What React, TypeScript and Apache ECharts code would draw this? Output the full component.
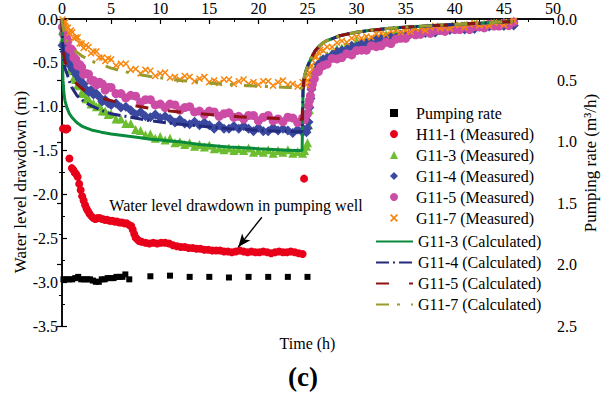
import React, { useEffect, useRef } from 'react';
import * as echarts from 'echarts';

const FONT = 'Liberation Serif, serif';

// ---------- Pumping rate (m3/h, right axis) ----------
const tQ = [0.15, 0.45, 0.75, 1.05, 1.35, 1.65, 1.95, 2.25, 2.55, 2.85, 3.15, 3.45, 3.75, 4.05, 4.35, 4.65, 4.95, 5.25, 5.55, 5.85, 6.15, 6.45, 6.85, 9, 11, 13, 15, 17, 19, 21, 23, 25];
const vQ = [2.12, 2.12, 2.12, 2.12, 2.11, 2.10, 2.12, 2.12, 2.12, 2.12, 2.13, 2.14, 2.14, 2.12, 2.12, 2.11, 2.11, 2.11, 2.10, 2.10, 2.10, 2.08, 2.12, 2.095, 2.09, 2.10, 2.10, 2.105, 2.10, 2.10, 2.10, 2.10];

// ---------- H11-1 (Measured) ----------
const tH = [0.1, 0.25, 0.4, 0.55, 0.75, 1.0, 1.15, 1.3, 1.45, 1.6, 1.75, 1.9, 2.05, 2.2, 2.35, 2.5, 2.65, 2.8, 3.0, 3.2, 3.4, 3.6, 3.85, 4.1, 4.35, 4.6, 4.85, 5.1, 5.35, 5.6, 5.85, 6.1, 6.35, 6.6, 6.85, 7.05, 7.2, 7.35, 7.5, 7.65, 7.85, 8.1,
  8.5, 8.9, 9.3, 9.7, 10.1, 10.5, 10.9, 11.3, 11.7, 12.1, 12.5, 12.9, 13.3, 13.7, 14.1, 14.5, 14.9, 15.3, 15.7, 16.1, 16.5, 16.9, 17.3, 17.7, 18.1, 18.5, 18.9, 19.3, 19.7, 20.1, 20.5, 20.9, 21.3, 21.7, 22.1, 22.5, 22.9, 23.3, 23.7, 24.1, 24.5, 24.65];
const vH = [-1.25, -1.25, -1.26, -1.25, -1.59, -1.70, -1.72, -1.75, -1.77, -1.80, -1.88, -1.95, -2.02, -2.07, -2.12, -2.16, -2.19, -2.22, -2.25, -2.27, -2.28, -2.27, -2.27, -2.28, -2.29, -2.29, -2.30, -2.30, -2.31, -2.31, -2.32, -2.32, -2.33, -2.33, -2.35, -2.36, -2.40, -2.45, -2.49, -2.51, -2.53, -2.54,
  -2.55, -2.56, -2.55, -2.56, -2.55, -2.55, -2.56, -2.58, -2.59, -2.60, -2.60, -2.61, -2.61, -2.62, -2.62, -2.63, -2.63, -2.64, -2.64, -2.64, -2.65, -2.65, -2.66, -2.65, -2.64, -2.65, -2.66, -2.65, -2.66, -2.66, -2.65, -2.66, -2.67, -2.66, -2.65, -2.66, -2.66, -2.65, -2.66, -2.67, -2.68, -1.82];

// ---------- G11 observation wells, measured (pumping phase) ----------
const tP = [0.05, 0.15, 0.25, 0.35, 0.45, 0.6, 0.75, 0.9,
  1.05, 1.2, 1.4, 1.6, 1.8, 2.0, 2.2, 2.45,
  2.7, 2.95, 3.2, 3.5, 3.8, 4.1, 4.4, 4.7,
  5, 5.5, 6, 6.5, 7, 7.5, 8, 8.5,
  9, 9.5, 10, 10.5, 11, 11.5, 12, 12.5,
  13, 13.5, 14, 14.5, 15, 15.5, 16, 16.5,
  17, 17.5, 18, 18.5, 19, 19.5, 20, 20.5,
  21, 21.5, 22, 22.5, 23, 23.5, 24, 24.5];
const g3P = [-0.13, -0.22, -0.24, -0.31, -0.33, -0.44, -0.49, -0.57,
  -0.59, -0.67, -0.69, -0.75, -0.76, -0.84, -0.85, -0.91,
  -0.91, -0.97, -0.96, -1.00, -0.99, -1.05, -1.05, -1.09,
  -1.08, -1.14, -1.14, -1.19, -1.19, -1.26, -1.27, -1.32,
  -1.31, -1.36, -1.34, -1.38, -1.36, -1.41, -1.40, -1.43,
  -1.41, -1.45, -1.43, -1.46, -1.44, -1.48, -1.47, -1.49,
  -1.47, -1.50, -1.48, -1.50, -1.47, -1.52, -1.50, -1.52,
  -1.49, -1.53, -1.50, -1.52, -1.49, -1.53, -1.51, -1.53];
const g4P = [-0.30, -0.31, -0.37, -0.37, -0.42, -0.49, -0.48, -0.54,
  -0.57, -0.56, -0.63, -0.63, -0.69, -0.75, -0.74, -0.80,
  -0.83, -0.81, -0.86, -0.85, -0.89, -0.94, -0.92, -0.96,
  -0.98, -0.96, -1.01, -1.00, -1.04, -1.09, -1.06, -1.11,
  -1.12, -1.09, -1.13, -1.11, -1.14, -1.18, -1.15, -1.19,
  -1.20, -1.17, -1.21, -1.18, -1.21, -1.25, -1.21, -1.25,
  -1.25, -1.22, -1.25, -1.22, -1.25, -1.28, -1.24, -1.28,
  -1.28, -1.24, -1.27, -1.25, -1.27, -1.30, -1.26, -1.29];
const g5P = [-0.09, -0.17, -0.17, -0.23, -0.21, -0.25, -0.34, -0.34,
  -0.36, -0.44, -0.46, -0.53, -0.52, -0.55, -0.63, -0.62,
  -0.63, -0.70, -0.70, -0.75, -0.72, -0.74, -0.81, -0.78,
  -0.78, -0.85, -0.85, -0.90, -0.87, -0.88, -0.95, -0.92,
  -0.92, -0.98, -0.97, -1.01, -0.97, -0.98, -1.04, -1.01,
  -1.00, -1.06, -1.05, -1.09, -1.05, -1.06, -1.11, -1.08,
  -1.07, -1.12, -1.11, -1.14, -1.10, -1.10, -1.16, -1.12,
  -1.10, -1.16, -1.14, -1.17, -1.12, -1.13, -1.18, -1.13];
const g7P = [-0.005, -0.06, -0.04, -0.03, -0.10, -0.10, -0.16, -0.13,
  -0.15, -0.22, -0.21, -0.21, -0.28, -0.28, -0.33, -0.30,
  -0.32, -0.39, -0.37, -0.37, -0.44, -0.44, -0.48, -0.45,
  -0.46, -0.53, -0.51, -0.51, -0.58, -0.57, -0.62, -0.58,
  -0.59, -0.65, -0.62, -0.61, -0.67, -0.66, -0.69, -0.65,
  -0.66, -0.71, -0.68, -0.66, -0.72, -0.70, -0.73, -0.69,
  -0.69, -0.74, -0.71, -0.69, -0.74, -0.72, -0.75, -0.71,
  -0.71, -0.76, -0.72, -0.70, -0.75, -0.74, -0.77, -0.72];

// ---------- G11 measured (recovery phase) ----------
const tR = [24.7, 24.9, 25.0, 25.1, 25.2, 25.3, 25.4, 25.5,
  25.7, 25.9, 26.1, 26.3, 26.6, 27.0, 27.5, 28.0,
  28.5, 29, 29.5, 30, 30.5, 31, 31.5, 32,
  32.5, 33, 33.5, 34, 34.5, 35, 35.5, 36,
  36.5, 37, 37.5, 38, 38.5, 39, 39.5, 40,
  40.5, 41, 41.5, 42, 42.5, 43, 43.5, 44,
  44.5, 45, 45.5, 46];
const g3R = [-1.50, -1.45, -1.41, -1.205, -1.035, -0.865, -0.765, -0.67,
  -0.60, -0.54, -0.52, -0.465, -0.465, -0.415, -0.385, -0.34,
  -0.33, -0.30, -0.30, -0.255, -0.27, -0.235, -0.23, -0.20,
  -0.20, -0.18, -0.19, -0.155, -0.175, -0.145, -0.15, -0.13,
  -0.13, -0.115, -0.13, -0.10, -0.125, -0.10, -0.105, -0.085,
  -0.09, -0.075, -0.09, -0.06, -0.085, -0.06, -0.065, -0.045,
  -0.05, -0.035, -0.05, -0.02];
const g4R = [-1.265, -1.29, -1.245, -1.175, -1.01, -0.905, -0.80, -0.71,
  -0.625, -0.58, -0.515, -0.515, -0.46, -0.445, -0.41, -0.37,
  -0.355, -0.35, -0.305, -0.315, -0.275, -0.275, -0.255, -0.23,
  -0.225, -0.23, -0.195, -0.215, -0.18, -0.185, -0.17, -0.15,
  -0.15, -0.16, -0.13, -0.155, -0.125, -0.135, -0.125, -0.11,
  -0.11, -0.12, -0.09, -0.115, -0.085, -0.095, -0.085, -0.07,
  -0.07, -0.08, -0.05, -0.075];
const g5R = [-1.15, -1.085, -1.08, -0.99, -0.93, -0.875, -0.78, -0.745,
  -0.68, -0.605, -0.60, -0.55, -0.53, -0.515, -0.45, -0.455,
  -0.44, -0.395, -0.41, -0.36, -0.355, -0.355, -0.305, -0.315,
  -0.305, -0.265, -0.28, -0.23, -0.22, -0.22, -0.17, -0.18,
  -0.175, -0.14, -0.165, -0.13, -0.13, -0.14, -0.10, -0.12,
  -0.12, -0.09, -0.12, -0.085, -0.09, -0.10, -0.06, -0.08,
  -0.08, -0.05, -0.075, -0.035];
const g7R = [-0.73, -0.75, -0.70, -0.64, -0.61, -0.55, -0.53, -0.47,
  -0.43, -0.43, -0.38, -0.35, -0.36, -0.32, -0.32, -0.27,
  -0.25, -0.265, -0.22, -0.20, -0.22, -0.20, -0.21, -0.17,
  -0.16, -0.18, -0.14, -0.125, -0.15, -0.13, -0.145, -0.11,
  -0.105, -0.13, -0.095, -0.08, -0.105, -0.09, -0.105, -0.07,
  -0.067, -0.093, -0.06, -0.047, -0.073, -0.06, -0.076, -0.043,
  -0.04, -0.066, -0.033, -0.02];

// ---------- Calculated curves ----------
const tC = [0, 0.05, 0.1, 0.2, 0.3, 0.5, 0.75, 1, 1.5, 2, 2.5, 3, 4, 5, 6, 7, 8, 9, 10, 11, 12, 13, 14, 15, 16, 17, 18, 19, 20, 21, 22, 23, 24, 24.45];
const c3 = [0, -0.45, -0.70, -0.85, -0.93, -1.01, -1.08, -1.12, -1.18, -1.22, -1.245, -1.265, -1.29, -1.31, -1.325, -1.34, -1.355, -1.37, -1.38, -1.39, -1.40, -1.415, -1.43, -1.44, -1.45, -1.46, -1.465, -1.47, -1.48, -1.485, -1.49, -1.495, -1.50, -1.50];
const c4 = [0, -0.25, -0.38, -0.50, -0.56, -0.62, -0.71, -0.78, -0.87, -0.92, -0.96, -0.99, -1.04, -1.08, -1.10, -1.12, -1.14, -1.16, -1.175, -1.19, -1.20, -1.21, -1.22, -1.23, -1.24, -1.25, -1.255, -1.26, -1.27, -1.275, -1.28, -1.28, -1.285, -1.285];
const c5 = [0, -0.20, -0.30, -0.42, -0.48, -0.56, -0.62, -0.67, -0.74, -0.79, -0.83, -0.86, -0.90, -0.93, -0.96, -0.98, -1.00, -1.02, -1.035, -1.05, -1.06, -1.07, -1.08, -1.09, -1.10, -1.105, -1.115, -1.12, -1.125, -1.13, -1.135, -1.14, -1.14, -1.145];
const c7 = [0, -0.05, -0.09, -0.15, -0.19, -0.25, -0.30, -0.33, -0.38, -0.42, -0.45, -0.48, -0.52, -0.56, -0.59, -0.615, -0.635, -0.655, -0.67, -0.685, -0.70, -0.71, -0.72, -0.73, -0.74, -0.745, -0.755, -0.76, -0.765, -0.77, -0.775, -0.78, -0.785, -0.79];
const tCR = [24.55, 24.6, 24.7, 24.85, 25.0, 25.2, 25.5, 25.8, 26.2, 26.6, 27, 27.6, 28.3, 29.3, 30, 31, 32, 33.4, 35.4, 37.8, 40.5, 43, 45.6, 46];
const cRec = [-0.80, -0.72, -0.65, -0.59, -0.54, -0.49, -0.42, -0.36, -0.31, -0.27, -0.245, -0.22, -0.19, -0.165, -0.15, -0.135, -0.122, -0.105, -0.09, -0.075, -0.06, -0.045, -0.03, -0.028];

// annotation arrow (data coords): tail -> head
const arrowTail = [20.35, -2.26];
const arrowHead = [17.95, -2.6];

const xTicks = { min: 0, max: 50, interval: 5 };
const leftTicks = { min: -3.5, max: 0, interval: 0.5 };
const rightTicks = { min: 0, max: 2.5, interval: 0.5 };

const XSYM = 'path://M0,1.5L1.5,0L5,3.5L8.5,0L10,1.5L6.5,5L10,8.5L8.5,10L5,6.5L1.5,10L0,8.5L3.5,5Z';

const zip = (ts: number[], vs: number[]) => ts.map((t, i) => [t, vs[i]]);

export default function App() {
  const ref = useRef<HTMLDivElement>(null);
  useEffect(() => {
    const chart = echarts.init(ref.current as HTMLDivElement, null, { renderer: 'svg' });
    const axisLine = { show: true, lineStyle: { color: '#000', width: 1.5 } };
    const lab = { color: '#000', fontSize: 16, fontFamily: FONT };
    const scatter = (name: string, data: number[][], symbol: string, size: number, color: string, extra: any = {}) => ({
      name, type: 'scatter', data, symbol, symbolSize: size, itemStyle: { color, opacity: 1 }, ...extra,
    });
    const line = (name: string, data: number[][], color: string, type: any) => ({
      name, type: 'line', data, symbol: 'none', smooth: false,
      lineStyle: { color, width: 3, type }, itemStyle: { color },
    });
    const option: any = {
      animation: false,
      backgroundColor: '#fff',
      textStyle: { fontFamily: FONT },
      grid: { left: 62, right: 52, top: 18, bottom: 76, containLabel: false },
      xAxis: [
        {
          type: 'value', position: 'bottom', ...xTicks,
          axisLine, axisTick: { show: false }, axisLabel: { show: false }, splitLine: { show: false },
          name: 'Time (h)', nameLocation: 'middle', nameGap: 9, nameTextStyle: lab,
        },
        {
          type: 'value', position: 'top', ...xTicks,
          axisLine, axisTick: { show: true, inside: true, length: 5, lineStyle: { color: '#000', width: 1.2 } },
          minorTick: { show: true, splitNumber: 2, length: 3, lineStyle: { color: '#000', width: 1 } },
          axisLabel: { ...lab, margin: 3 }, splitLine: { show: false },
        },
      ],
      yAxis: [
        {
          type: 'value', position: 'left', ...leftTicks,
          axisLine, axisTick: { show: true, inside: true, length: 5, lineStyle: { color: '#000', width: 1.2 } },
          minorTick: { show: true, splitNumber: 2, length: 3, lineStyle: { color: '#000', width: 1 } },
          axisLabel: { ...lab, margin: 4, formatter: (v: number) => v.toFixed(1) }, splitLine: { show: false },
        },
        {
          type: 'value', position: 'right', inverse: true, ...rightTicks,
          axisLine, axisTick: { show: true, inside: true, length: 5, lineStyle: { color: '#000', width: 1.2 } },
          minorTick: { show: true, splitNumber: 2, length: 3, lineStyle: { color: '#000', width: 1 } },
          axisLabel: { ...lab, margin: 4, formatter: (v: number) => v.toFixed(1) }, splitLine: { show: false },
        },
      ],
      legend: [
        {
          orient: 'vertical', left: 390, top: 104, padding: 0, itemWidth: 8, itemHeight: 8, itemGap: 3,
          selectedMode: false, textStyle: { ...lab, lineHeight: 18, padding: [0, 0, 0, 13] },
          data: ['Pumping rate', 'H11-1 (Measured)', 'G11-3 (Measured)', 'G11-4 (Measured)', 'G11-5 (Measured)', 'G11-7 (Measured)'],
        },
        {
          orient: 'vertical', left: 375, top: 232.5, padding: 0, itemWidth: 37, itemHeight: 8, itemGap: 3,
          selectedMode: false, textStyle: { ...lab, lineHeight: 18 },
          itemStyle: { opacity: 0 },
          data: ['G11-3 (Calculated)', 'G11-4 (Calculated)', 'G11-5 (Calculated)', 'G11-7 (Calculated)'],
        },
      ],
      series: [
        scatter('Pumping rate', zip(tQ, vQ), 'rect', 6, '#000000', { yAxisIndex: 1 }),
        scatter('H11-1 (Measured)', zip(tH, vH), 'circle', 8, '#e8001a', {
          markLine: {
            silent: true, symbol: ['none', 'arrow'], symbolSize: [8, 13],
            lineStyle: { color: '#000', width: 1.3, type: 'solid' }, label: { show: false },
            data: [[{ coord: arrowTail }, { coord: arrowHead }]],
          },
        }),
        scatter('G11-3 (Measured)', zip(tP, g3P).concat(zip(tR, g3R)), 'triangle', 9, '#6cbd2f'),
        scatter('G11-4 (Measured)', zip(tP, g4P).concat(zip(tR, g4R)), 'diamond', 10, '#3a48a0'),
        scatter('G11-5 (Measured)', zip(tP, g5P).concat(zip(tR, g5R)), 'circle', 9, '#cc4ca5'),
        scatter('G11-7 (Measured)', zip(tP, g7P).concat(zip(tR, g7R)), XSYM, 7, '#f7860f'),
        line('G11-3 (Calculated)', zip(tC, c3).concat(zip(tCR, cRec)), '#0a8a3c', 'solid'),
        line('G11-4 (Calculated)', zip(tC, c4).concat(zip(tCR, cRec)), '#232a7c', [13, 4, 2, 4]),
        line('G11-5 (Calculated)', zip(tC, c5).concat(zip(tCR, cRec)), '#8e1212', [13, 20]),
        line('G11-7 (Calculated)', zip(tC, c7).concat(zip(tCR, cRec)), '#9a9a2e', [13, 8, 3, 11]),
      ],
      graphic: [
        {
          type: 'text', x: 20, y: 182, rotation: Math.PI / 2,
          style: { text: 'Water level drawdown (m)', fill: '#000', fontSize: 17, fontFamily: FONT, align: 'center', verticalAlign: 'middle', textAlign: 'center', textVerticalAlign: 'middle' },
        },
        {
          type: 'text', x: 590, y: 163, rotation: Math.PI / 2,
          style: { text: 'Pumping rate (m³/h)', fill: '#000', fontSize: 17, fontFamily: FONT, align: 'center', verticalAlign: 'middle', textAlign: 'center', textVerticalAlign: 'middle' },
        },
        {
          type: 'text', x: 236, y: 205,
          style: { text: 'Water level drawdown in pumping well', fill: '#000', fontSize: 16, fontFamily: FONT, align: 'center', verticalAlign: 'middle', textAlign: 'center', textVerticalAlign: 'middle' },
        },
        {
          type: 'text', x: 303, y: 377,
          style: { text: '(c)', fill: '#000', fontSize: 27, fontWeight: 'bold', fontFamily: FONT, align: 'center', verticalAlign: 'middle', textAlign: 'center', textVerticalAlign: 'middle' },
        },
      ],
    };
    chart.setOption(option);
    return () => chart.dispose();
  }, []);
  return <div ref={ref} style={{ position: 'fixed', left: 0, top: 0, width: 605, height: 402, background: '#fff' }} />;
}
